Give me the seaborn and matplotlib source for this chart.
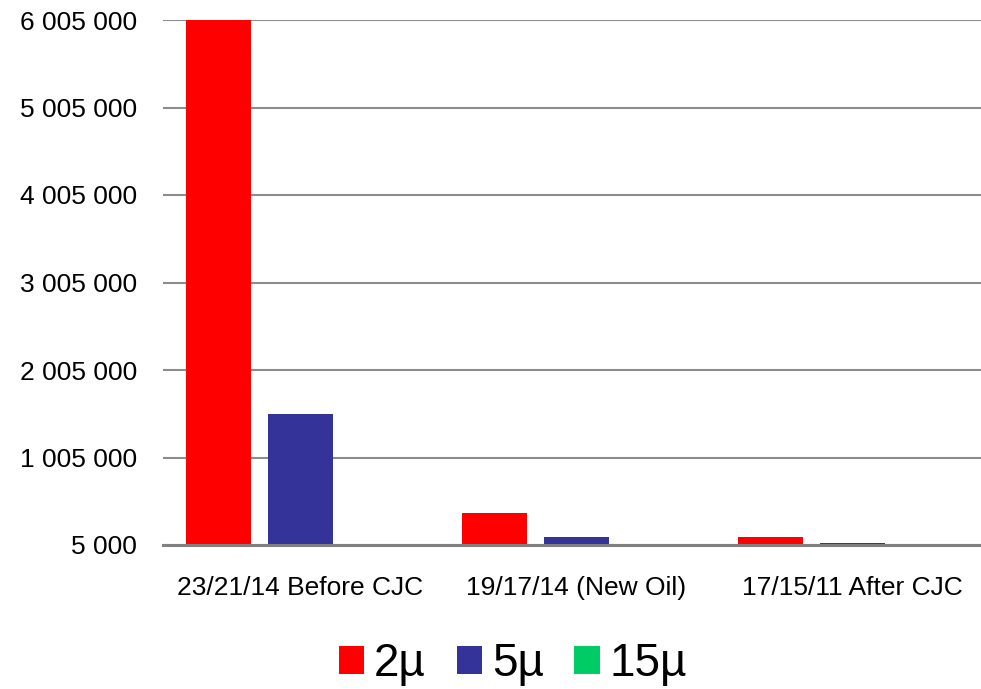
import matplotlib
matplotlib.use("Agg")
import matplotlib.pyplot as plt
import seaborn as sns
import pandas as pd
from matplotlib.ticker import FixedLocator, FuncFormatter
from matplotlib.patches import Patch

categories = ["23/21/14 Before CJC", "19/17/14 (New Oil)", "17/15/11 After CJC"]
series_names = ["2µ", "5µ", "15µ"]
vals_2 = [6005000, 370000, 92000]
vals_5 = [1500000, 92000, 25000]
vals_15 = [7000, 6000, 5500]
colors = ["#FF0000", "#333399", "#00CC66"]
yticks = [5000, 1005000, 2005000, 3005000, 4005000, 5005000, 6005000]

rows = []
for name, vals in zip(series_names, [vals_2, vals_5, vals_15]):
    for c, v in zip(categories, vals):
        rows.append({"cat": c, "series": name, "value": v})
df = pd.DataFrame(rows)

sns.set_style("white")
plt.rcParams["font.family"] = ["Liberation Sans", "DejaVu Sans"]

fig = plt.figure(figsize=(9.81, 6.89), dpi=100)
left = 162.5 / 981
ax = fig.add_axes([left, 1 - 545 / 689, 828 / 981, (545 - 20) / 689])

sns.barplot(data=df, x="cat", y="value", hue="series", palette=colors,
            order=categories, hue_order=series_names, width=0.89, gap=0.2,
            ax=ax, legend=False, saturation=1, linewidth=0)

ax.set_ylim(5000, 6005000)
ax.set_xlim(-0.5, 2.5)
ax.yaxis.set_major_locator(FixedLocator(yticks))
ax.yaxis.set_major_formatter(FuncFormatter(lambda v, p: f"{int(round(v)):,}".replace(",", " ")))
ax.grid(axis="y", color="#8c8c8c", linewidth=1.5)
ax.set_axisbelow(True)
for s in ["left", "right", "top"]:
    ax.spines[s].set_visible(False)
ax.spines["bottom"].set_color("#808080")
ax.spines["bottom"].set_linewidth(2.2)
ax.tick_params(axis="y", length=0, pad=18.5, labelsize=19, labelcolor="black")
ax.tick_params(axis="x", length=0, pad=22, labelsize=19, labelcolor="black")
ax.set_xlabel("")
ax.set_ylabel("")

handles = [Patch(facecolor=c, edgecolor="none") for c in colors]
leg = fig.legend(handles, series_names, loc="center", bbox_to_anchor=(513 / 981, 1 - 664 / 689),
                 ncol=3, frameon=False, fontsize=33, handlelength=0.55, handleheight=0.55,
                 handletextpad=0.22, columnspacing=0.67, borderaxespad=0)
for t in leg.get_texts():
    t.set_color("black")

fig.savefig("out.png", dpi=100)
